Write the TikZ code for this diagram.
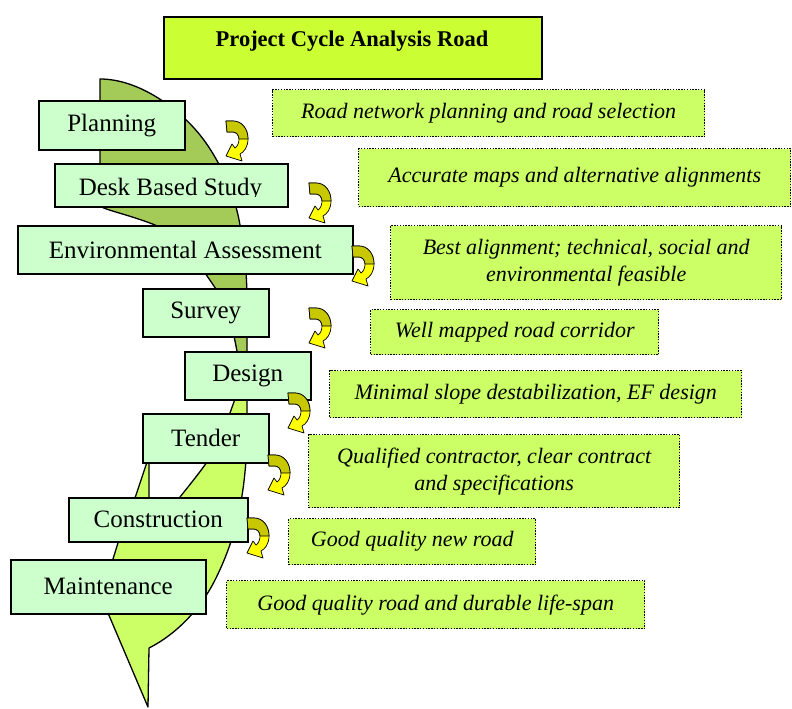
\documentclass[tikz,border=0pt]{standalone}
\usepackage{fontspec}
\setmainfont{Liberation Serif}
\definecolor{titlefill}{RGB}{204,255,51}
\definecolor{descfill}{RGB}{204,255,102}
\definecolor{boxgreen}{RGB}{204,255,204}
\definecolor{leafdark}{RGB}{164,202,88}
\definecolor{leaflight}{RGB}{204,255,102}
\definecolor{arrowyellow}{RGB}{255,255,0}
\definecolor{arrowdark}{RGB}{200,200,0}
\begin{document}
\begin{tikzpicture}[x=1pt,y=-1pt,
  mainbox/.style={draw=black, line width=1.5pt, fill=boxgreen, inner sep=0pt, anchor=north west, font=\fontsize{25}{30}\selectfont},
  descbox/.style={draw=black, line width=1.4pt, dash pattern=on 1.4pt off 1.4pt, fill=descfill, inner sep=0pt, anchor=north west, align=center, font=\fontsize{22}{27}\selectfont\itshape},
  titlebox/.style={draw=black, line width=2pt, fill=titlefill, inner sep=0pt, anchor=north west},
  leaf/.style={draw=black, line width=1.3pt, line join=round},
  curvarrow/.pic={
    \path[draw=black, line width=0.7pt, fill=arrowyellow, line join=round]
      (0,0) -- (7,0) .. controls (16,0) and (22,8) .. (22,18)
      .. controls (22,26) and (18,31) .. (14,33) -- (16,40) -- (0,35) -- (6,23) -- (9,27)
      .. controls (12,25) and (13,21) .. (13,18) .. controls (13,14) and (10,11) .. (7,11)
      -- (1,11) -- cycle;
    \path[draw=black, line width=0.7pt, fill=arrowdark, line join=round]
      (0,0) -- (7,0) .. controls (16,0) and (22,8) .. (22,18) -- (13,18)
      .. controls (13,14) and (10,11) .. (7,11) -- (1,11) -- cycle;
  }]
\useasboundingbox (0,0) rectangle (792,709);
\fill[white] (0,0) rectangle (792,709);

% leaf shapes
\path[leaf, fill=leaflight] (247,380) -- (247,440) .. controls (245,500) and (235,540) .. (215,580)
  .. controls (200,610) and (175,635) .. (149,648) -- (148,707) -- (108,613) -- (103,595)
  -- (113,559) -- (122,530) -- (130,515) -- (150,510) .. controls (165,505) and (175,502) .. (180,497)
  .. controls (192,482) and (200,472) .. (207,462) .. controls (218,446) and (228,430) .. (230,413)
  -- (235,399) -- (235,380) -- cycle;
\path[leaf, fill=leaflight] (148.4,458) -- (132,507) -- (149,507) -- (149,458) -- cycle;
\path[leaf, fill=leafdark] (100,79) .. controls (140,79) and (180,110) .. (200,135)
  .. controls (220,160) and (235,195) .. (240,225) .. controls (245,250) and (247,280) .. (247,300)
  -- (247,385) -- (237,385) -- (237,351) -- (234,336) .. controls (232,310) and (218,292) .. (205,273)
  .. controls (185,250) and (175,235) .. (155,225) .. controls (130,215) and (105,210) .. (100,206) -- cycle;

% title
\node[titlebox, minimum width=378pt, minimum height=62pt] (title) at (163,16) {};
\node[anchor=base, font=\fontsize{22.5}{27}\selectfont\bfseries] (titletext) at (352,47) {Project Cycle Analysis Road};

% main boxes
\node[mainbox, minimum width=146pt, minimum height=49pt] (plan) at (38,100) {Planning};
\node[mainbox, minimum width=233pt, minimum height=43pt] (desk) at (54,163) {};
\begin{scope}
  \clip (54,163) rectangle (287,196.5);
  \node[anchor=base, font=\fontsize{25}{30}\selectfont, inner sep=0pt] (desktext) at (170.5,195.5) {Desk Based Study};
\end{scope}
\node[mainbox, minimum width=335pt, minimum height=48pt] (env) at (17,225) {Environmental Assessment};
\node[mainbox, minimum width=126pt, minimum height=48pt] (survey) at (142,288) {Survey};
\node[mainbox, minimum width=126pt, minimum height=48pt] (design) at (184,351) {Design};
\node[mainbox, minimum width=126pt, minimum height=49pt] (tender) at (142,413) {Tender};
\node[mainbox, minimum width=179pt, minimum height=44pt] (constr) at (68,497) {Construction};
\node[mainbox, minimum width=195pt, minimum height=54pt] (maint) at (10,559) {Maintenance};

% description boxes
\node[descbox, minimum width=432pt, minimum height=47pt] (d1) at (272,89) {Road network planning and road selection};
\node[descbox, minimum width=432pt, minimum height=58pt] (d2) at (358,148) {Accurate maps and alternative alignments};
\node[descbox, minimum width=391pt, minimum height=74pt] (d3) at (390,225) {Best alignment; technical, social and\\environmental feasible};
\node[descbox, minimum width=288pt, minimum height=45pt] (d4) at (370,309) {Well mapped road corridor};
\node[descbox, minimum width=412pt, minimum height=47pt] (d5) at (329,370) {Minimal slope destabilization, EF design};
\node[descbox, minimum width=371pt, minimum height=73pt] (d6) at (308,434) {Qualified contractor, clear contract\\and specifications};
\node[descbox, minimum width=247pt, minimum height=46pt] (d7) at (288,518) {Good quality new road};
\node[descbox, minimum width=418pt, minimum height=48pt] (d8) at (226,580) {Good quality road and durable life-span};

% curved arrows
\pic (a1) at (226,121) {curvarrow};
\pic (a2) at (309,183) {curvarrow};
\pic (a3) at (352,246) {curvarrow};
\pic (a4) at (309,308) {curvarrow};
\pic (a5) at (288,393) {curvarrow};
\pic (a6) at (268,455) {curvarrow};
\pic (a7) at (247,518) {curvarrow};
\end{tikzpicture}
\end{document}
